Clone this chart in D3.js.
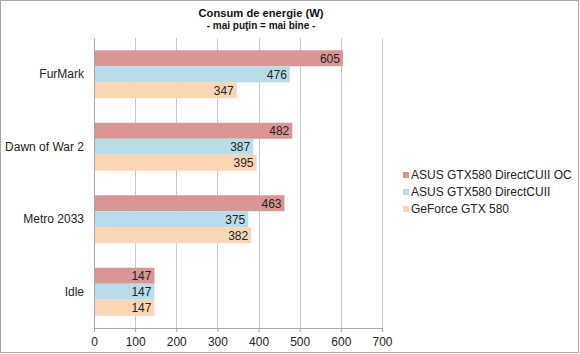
<!DOCTYPE html>
<html>
<head>
<meta charset="utf-8">
<script src="https://d3js.org/d3.v7.min.js"></script>
<style>
  body { margin: 0; background: #fff; }
  svg { font-family: Arial, "Liberation Sans", sans-serif; }
</style>
</head>
<body>
<svg id="chart" width="580" height="354"></svg>
<script>
// data
var categories = ["FurMark", "Dawn of War 2", "Metro 2033", "Idle"];
var seriesNames = ["ASUS GTX580 DirectCUII OC", "ASUS GTX580 DirectCUII", "GeForce GTX 580"];
var asusOC = [605, 482, 463, 147];
var asus = [476, 387, 375, 147];
var geforce = [347, 395, 382, 147];
var xTicks = [0, 100, 200, 300, 400, 500, 600, 700];
var colors = ["#d99694", "#b7dee8", "#fcd5b5"];

var series = [asusOC, asus, geforce];

var svg = d3.select("#chart");
var m = { left: 94, right: 198, top: 38, bottom: 26 };
var W = 580, H = 354;

// outer border
svg.append("rect")
    .attr("x", 0.5).attr("y", 0.5)
    .attr("width", W - 2).attr("height", H - 2)
    .attr("fill", "#fff").attr("stroke", "#a6a6a6");

var x = d3.scaleLinear().domain([0, 700]).range([m.left, W - m.right]);
var y0 = d3.scaleBand().domain(categories).range([m.top, H - m.bottom]).paddingInner(0.338).paddingOuter(0.169);
var y1 = d3.scaleBand().domain(d3.range(series.length)).range([0, y0.bandwidth()]);

// gridlines
svg.append("g").selectAll("line").data(xTicks.slice(1)).join("line")
    .attr("x1", d => Math.round(x(d)) + 0.5).attr("x2", d => Math.round(x(d)) + 0.5)
    .attr("y1", m.top).attr("y2", H - m.bottom)
    .attr("stroke", "#c8c8c8");

// bars
series.forEach(function (vals, si) {
  var g = svg.append("g");
  g.selectAll("rect").data(vals).join("rect")
      .attr("x", x(0))
      .attr("y", (d, i) => y0(categories[i]) + y1(si))
      .attr("width", d => x(d) - x(0))
      .attr("height", y1.bandwidth())
      .attr("fill", colors[si]);
  g.selectAll("text").data(vals).join("text")
      .attr("x", d => x(d) - 3)
      .attr("y", (d, i) => y0(categories[i]) + y1(si) + y1.bandwidth() / 2)
      .attr("dy", "0.36em")
      .attr("text-anchor", "end")
      .attr("font-size", 12)
      .attr("fill", "#222")
      .text(d => d);
});

// x axis
var xAxis = svg.append("g")
    .attr("transform", "translate(0," + (H - m.bottom) + ")")
    .call(d3.axisBottom(x).tickValues(xTicks).tickSize(4).tickPadding(5));
xAxis.select(".domain").attr("stroke", "#a6a6a6");
xAxis.selectAll(".tick line").attr("stroke", "#a6a6a6");
xAxis.selectAll("text").attr("font-size", 12).attr("fill", "#222").attr("font-family", "Arial, 'Liberation Sans', sans-serif");

// y axis
var yAxis = svg.append("g")
    .attr("transform", "translate(" + m.left + ",0)")
    .call(d3.axisLeft(y0).tickSize(0).tickPadding(10));
yAxis.select(".domain").attr("stroke", "#a6a6a6");
yAxis.selectAll("text").attr("font-size", 12).attr("fill", "#222").attr("font-family", "Arial, 'Liberation Sans', sans-serif");

// title
svg.append("text").attr("x", 261).attr("y", 17).attr("text-anchor", "middle")
    .attr("font-size", 11.2).attr("font-weight", "bold").attr("fill", "#111")
    .text("Consum de energie (W)");
svg.append("text").attr("x", 261).attr("y", 29).attr("text-anchor", "middle")
    .attr("font-size", 10).attr("font-weight", "bold").attr("fill", "#111")
    .text("- mai puţin = mai bine -");

// legend
var leg = svg.append("g").attr("transform", "translate(403,175)");
seriesNames.forEach(function (name, i) {
  leg.append("rect").attr("x", 0).attr("y", i * 17 - 3).attr("width", 6).attr("height", 6).attr("fill", colors[i]);
  leg.append("text").attr("x", 8).attr("y", i * 17).attr("dy", "0.36em")
      .attr("font-size", 12).attr("fill", "#222").text(name);
});
</script>
</body>
</html>
